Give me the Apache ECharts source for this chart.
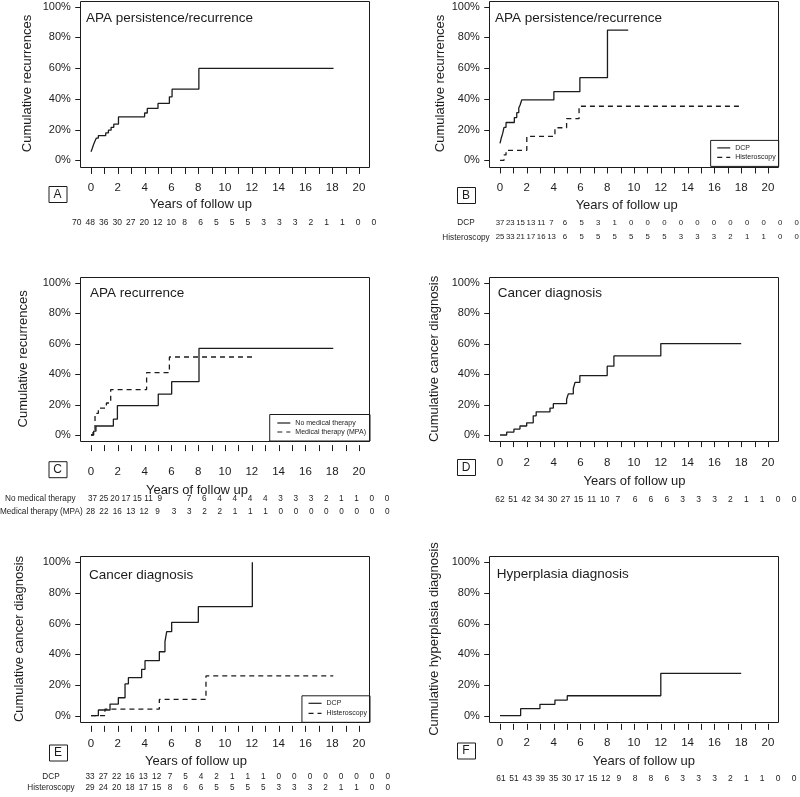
<!DOCTYPE html>
<html><head><meta charset="utf-8">
<script src="https://cdn.jsdelivr.net/npm/echarts@6/dist/echarts.min.js"></script>
<style>html,body{margin:0;padding:0;background:#fff}#c{width:800px;height:797px}</style>
</head><body><div id="c"></div>
<script>
// ---------------- DATA ----------------
const xTickMin = 0, xTickMax = 20, xTickStep = 1;
const yTickMin = 0, yTickMax = 100, yTickStep = 20;
// A: APA persistence/recurrence (all)
const aTime = [0, 0.1, 0.2, 0.3, 0.4, 0.55, 1.1, 1.3, 1.5, 1.7, 2.05, 4.0, 4.2, 5.0, 5.85, 6.05, 8.05, 18.1];
const aCum  = [5.6, 7.8, 10.5, 12.5, 14.5, 16.1, 17.8, 19.6, 21.5, 23.5, 28.3, 30.8, 33.8, 37.0, 41.3, 46.3, 59.8, 59.8];
const aRisk = [70,48,36,30,27,20,12,10,8,6,5,5,5,3,3,3,2,1,1,0,0];
// B: by surgery type
const bDcpTime = [0, 0.08, 0.2, 0.3, 0.45, 1.07, 1.25, 1.4, 1.5, 1.62, 4.02, 5.96, 8.02, 9.57];
const bDcpCum  = [11, 14, 17.5, 21.5, 24.6, 27.8, 31, 34, 36, 39.3, 44.7, 53.8, 84.8, 84.8];
const bHisTime = [0, 0.3, 0.45, 2.0, 4.1, 4.97, 5.9, 17.9];
const bHisCum  = [0, 3.5, 6.5, 15.6, 21.2, 27.1, 35.2, 35.2];
const bDcpRisk = [37,23,15,13,11,7,6,5,3,1,0,0,0,0,0,0,0,0,0,0,0];
const bHisRisk = [25,33,21,17,16,13,6,5,5,5,5,5,5,3,3,3,2,1,1,0,0];
// C: APA recurrence by medical therapy
const cNoTime  = [0, 0.2, 0.37, 1.67, 1.97, 5.02, 6.02, 8.06, 18.08];
const cNoCum   = [0, 2.5, 5.9, 10.4, 19.3, 26.9, 35.0, 56.9, 56.9];
const cMpaTime = [0, 0.15, 0.3, 0.55, 1.15, 1.47, 4.15, 5.85, 12.1];
const cMpaCum  = [0, 3.5, 14.2, 17.7, 21.0, 29.8, 41.0, 51.2, 51.2];
const cNoRisk  = [37,25,20,17,15,11,9,7,6,4,4,4,4,3,3,3,2,1,1,0,0];
const cMpaRisk = [28,22,16,13,12,9,3,3,2,2,1,1,1,0,0,0,0,0,0,0,0];
// D: cancer diagnosis (all)
const dTime = [0, 0.5, 1.04, 1.49, 1.99, 2.48, 2.7, 3.73, 3.98, 4.97, 5.1, 5.47, 5.6, 5.96, 8.0, 8.5, 12.0, 18.0];
const dCum  = [0, 1.9, 3.9, 5.9, 8.0, 12.6, 15.2, 17.7, 20.6, 23.5, 27.0, 30.5, 34.6, 39.0, 45.2, 51.9, 60.0, 60.0];
const dRisk = [62,51,42,34,30,27,15,11,10,7,6,6,6,3,3,3,2,1,1,0,0];
// E: cancer diagnosis by surgery type
const eDcpTime = [0, 0.55, 1.42, 2.04, 2.54, 2.79, 3.78, 4.03, 5.1, 5.52, 5.65, 6.02, 8.01, 12.04];
const eDcpCum  = [0, 3.7, 7.6, 11.7, 20.7, 24.8, 30.2, 35.9, 41.7, 48.3, 54.8, 60.9, 71.1, 100];
const eHisTime = [0, 1.04, 5.1, 8.58, 18.08];
const eHisCum  = [0, 4.3, 10.7, 25.9, 25.9];
const eDcpRisk = [33,27,22,16,13,12,7,5,4,2,1,1,1,0,0,0,0,0,0,0,0];
const eHisRisk = [29,24,20,18,17,15,8,6,6,5,5,5,5,3,3,3,2,1,1,0,0];
// F: hyperplasia diagnosis
const fTime = [0, 1.54, 2.98, 4.1, 5.02, 12.0, 18.0];
const fCum  = [0, 4.6, 7.4, 10.2, 13.0, 27.6, 27.6];
const fRisk = [61,51,43,39,35,30,17,15,12,9,8,8,6,3,3,3,2,1,1,0,0];

// ---------------- LAYOUT / STYLE ----------------
const FONT = '"Liberation Sans", Arial, Helvetica, sans-serif';
const INK = '#1c1c1c';
const DASH = [5, 4];
const X_TICK_LEN = 6, Y_TICK_LEN = 5;

const panels = [
  { letter:'A', title:'APA persistence/recurrence', yName:'Cumulative recurrences',
    series:[{name:'All A', t:aTime, c:aCum, dashed:false}],
    risk:[{label:null, n:aRisk, y:223}], riskFont:8.5, riskCols:{start:76.7, narrow:13.5, k:9, start2:200.7, wide:15.75},
    g:{left:91, top:6.7, width:268, height:153.6}, yGap:46, xOff:1.5, xMargin:13.6,
    titlePos:[86,18.3], xTitle:[200.8,204], letterPos:[57.5,194], legend:null },
  { letter:'B', title:'APA persistence/recurrence', yName:'Cumulative recurrences',
    series:[{name:'DCP', t:bDcpTime, c:bDcpCum, dashed:false},{name:'Histeroscopy', t:bHisTime, c:bHisCum, dashed:true}],
    risk:[{label:'DCP', n:bDcpRisk, y:222.7},{label:'Histeroscopy', n:bHisRisk, y:237.3}], riskLabelX:466, riskLabelAlign:'center',
    riskFont:7.8, riskCols:{start:500, narrow:10.3, k:6, start2:565, wide:16.55},
    g:{left:500, top:6.7, width:268, height:153.6}, yGap:42.5, xOff:1, xMargin:14.1,
    titlePos:[495,18.3], xTitle:[626.7,205], letterPos:[466,195],
    legend:{right:21.3, top:140.4, padding:[4,3,5.5,6], gap:2.5} },
  { letter:'C', title:'APA recurrence', yName:'Cumulative recurrences',
    series:[{name:'No medical therapy', t:cNoTime, c:cNoCum, dashed:false},{name:'Medical therapy (MPA)', t:cMpaTime, c:cMpaCum, dashed:true}],
    risk:[{label:'No medical therapy', n:cNoRisk, y:499, cols:{start:92.5, narrow:11.2, k:7, start2:189, wide:15.24}, lx:5},
          {label:'Medical therapy (MPA)', n:cMpaRisk, y:511.7, lx:0}], riskLabelAlign:'left',
    riskFont:8.2, riskCols:{start:90.5, narrow:13.4, k:6, start2:174, wide:15.24},
    g:{left:91, top:282.7, width:268, height:152.3}, yGap:50, xOff:4, xMargin:20.4,
    titlePos:[90,293.3], xTitle:[197,490], letterPos:[57.5,469.2],
    legend:{right:430, top:414.5, padding:[5,4,5.5,7], gap:2} },
  { letter:'D', title:'Cancer diagnosis', yName:'Cumulative cancer diagnosis',
    series:[{name:'All D', t:dTime, c:dCum, dashed:false}],
    risk:[{label:null, n:dRisk, y:499.3}], riskFont:8.5, riskCols:{start:500, narrow:13.1, k:10, start2:635, wide:15.9},
    g:{left:500, top:282.7, width:268, height:152.3}, yGap:48, xOff:0, xMargin:15.9,
    titlePos:[497.7,293.3], xTitle:[634.5,481.7], letterPos:[466,467], legend:null },
  { letter:'E', title:'Cancer diagnosis', yName:'Cumulative cancer diagnosis',
    series:[{name:'DCP', t:eDcpTime, c:eDcpCum, dashed:false},{name:'Histeroscopy', t:eHisTime, c:eHisCum, dashed:true}],
    risk:[{label:'DCP', n:eDcpRisk, y:776.7},{label:'Histeroscopy', n:eHisRisk, y:787.7}], riskLabelX:51, riskLabelAlign:'center',
    riskFont:8.2, riskCols:{start:90, narrow:13.33, k:6, start2:170, wide:15.55},
    g:{left:91, top:562.3, width:268, height:153.4}, yGap:54, xOff:4, xMargin:12.4,
    titlePos:[89,575], xTitle:[196,761.7], letterPos:[58,752.5],
    legend:{right:430, top:695.8, padding:[4,3,5.5,6], gap:3} },
  { letter:'F', title:'Hyperplasia diagnosis', yName:'Cumulative hyperplasia diagnosis',
    series:[{name:'All F', t:fTime, c:fCum, dashed:false}],
    risk:[{label:null, n:fRisk, y:778.3}], riskFont:8.5, riskCols:{start:501, narrow:13.1, k:10, start2:635, wide:15.9},
    g:{left:500, top:562.3, width:268, height:153.4}, yGap:48, xOff:2, xMargin:13,
    titlePos:[496.7,574.3], xTitle:[643.8,761], letterPos:[466,750.5], legend:null }
];

function colX(i, cols) {
  return i < cols.k ? cols.start + i * cols.narrow : cols.start2 + (i - cols.k) * cols.wide;
}

const grid = [], xAxis = [], yAxis = [], series = [], legend = [], graphic = [];
const baseGrid = { containLabel:false, outerBoundsMode:'none', show:false };
const hiddenX = (gi, mn, mx) => ({ type:'value', gridIndex:gi, show:false, min:mn, max:mx });
const hiddenY = (gi, mn, mx) => ({ type:'value', gridIndex:gi, show:false, min:mn, max:mx });

panels.forEach((p, i) => {
  const g = p.g;
  const padX = 0.04 * g.width, padY = 0.04 * g.height;
  const boxLeft = g.left - padX, boxBottom = g.top + g.height + padY;
  p.boxLeft = boxLeft; p.boxBottom = boxBottom;
  const gData = 4 * i, gX = 4 * i + 1, gY = 4 * i + 2, gName = 4 * i + 3;

  // 1) data grid (0..20 years, 0..100 %)
  grid.push(Object.assign({ left:g.left, top:g.top, width:g.width, height:g.height }, baseGrid));
  xAxis.push(hiddenX(gData, xTickMin, xTickMax)); yAxis.push(hiddenY(gData, yTickMin, yTickMax));

  // 2) thin strip under the frame carrying the x tick labels
  grid.push(Object.assign({ left:g.left, top:boxBottom + p.xOff, width:g.width, height:X_TICK_LEN }, baseGrid));
  xAxis.push({
    type:'value', gridIndex:gX, min:xTickMin, max:xTickMax, interval:xTickStep, position:'bottom',
    axisLine:{show:false, onZero:false}, axisTick:{show:false}, splitLine:{show:false},
    axisLabel:{show:true, margin:p.xMargin - X_TICK_LEN, color:INK, fontFamily:FONT, fontSize:11.5,
      hideOverlap:false, showMinLabel:true, showMaxLabel:true, formatter:val => (val % 2 === 0 ? String(val) : '')}
  });
  yAxis.push(hiddenY(gX, 0, 1));

  // 3) thin strip left of the frame carrying the y tick labels
  grid.push(Object.assign({ left:boxLeft - Y_TICK_LEN, top:g.top, width:Y_TICK_LEN, height:g.height }, baseGrid));
  xAxis.push(hiddenX(gY, 0, 1));
  yAxis.push({
    type:'value', gridIndex:gY, min:yTickMin, max:yTickMax, interval:yTickStep, position:'left',
    axisLine:{show:false, onZero:false}, axisTick:{show:false}, splitLine:{show:false},
    axisLabel:{show:true, margin:9.5 - Y_TICK_LEN, color:INK, fontFamily:FONT, fontSize:11, formatter:'{value}%',
      showMinLabel:true, showMaxLabel:true, hideOverlap:false}
  });

  // 4) y-axis title, anchored on the frame's left edge
  grid.push(Object.assign({ left:boxLeft, top:g.top, width:g.width + 2 * padX, height:g.height }, baseGrid));
  xAxis.push(hiddenX(gName, 0, 1));
  yAxis.push({
    type:'value', gridIndex:gName, min:0, max:100, position:'left',
    name:p.yName, nameLocation:'middle', nameRotate:90, nameGap:p.yGap,
    nameTextStyle:{color:INK, fontFamily:FONT, fontSize:13},
    axisLine:{show:false, onZero:false}, axisTick:{show:false}, axisLabel:{show:false}, splitLine:{show:false}
  });

  p.series.forEach(s => {
    series.push({
      type:'line', name:s.name, xAxisIndex:gData, yAxisIndex:gData, step:'end', symbol:'none', showSymbol:false,
      data:s.t.map((t, k) => [t, s.c[k]]), clip:false, silent:true, animation:false,
      lineStyle:{color:INK, width:1.3, type:s.dashed ? DASH : 'solid'}, itemStyle:{color:INK}
    });
  });
  if (p.legend) {
    legend.push({
      data:p.series.map(s => ({ name:s.name,
        itemStyle:{ opacity:0, color:'rgba(0,0,0,0)', borderColor:'rgba(0,0,0,0)', borderWidth:0 },
        lineStyle:{ color:INK, width:1.2, type:s.dashed ? DASH : 'solid' } })),
      orient:'vertical', right:p.legend.right, top:p.legend.top,
      padding:p.legend.padding, itemGap:p.legend.gap, itemWidth:13, itemHeight:7,
      borderColor:INK, borderWidth:1, borderRadius:0, backgroundColor:'#fff', selectedMode:false,
      itemStyle:{ opacity:0 },
      textStyle:{color:INK, fontFamily:FONT, fontSize:7}
    });
  }
  // plot frame
  graphic.push({ type:'rect', silent:true, z:5,
    shape:{ x:Math.round(boxLeft) + 0.5, y:Math.round(g.top - padY) + 0.5,
            width:Math.round(g.width + 2 * padX), height:Math.round(g.height + 2 * padY) },
    style:{ fill:'none', stroke:INK, lineWidth:1 } });
  // in-plot title
  graphic.push({ type:'text', silent:true, z:6, style:{ text:p.title, x:p.titlePos[0], y:p.titlePos[1],
    align:'left', verticalAlign:'middle', fill:INK, font:`13.5px ${FONT}` } });
  // x axis title
  graphic.push({ type:'text', silent:true, style:{ text:'Years of follow up', x:p.xTitle[0], y:p.xTitle[1],
    align:'center', verticalAlign:'middle', fill:INK, font:`13px ${FONT}` } });
  // panel letter
  graphic.push({ type:'rect', silent:true, shape:{ x:p.letterPos[0] - 9 + 0.5, y:p.letterPos[1] - 8 + 0.5, width:18, height:16 },
    style:{ fill:'#fff', stroke:INK, lineWidth:1 } });
  graphic.push({ type:'text', silent:true, z:2, style:{ text:p.letter, x:p.letterPos[0], y:p.letterPos[1] + 0.5,
    align:'center', verticalAlign:'middle', fill:INK, font:`12px ${FONT}` } });
  // numbers at risk
  p.risk.forEach(r => {
    const cols = r.cols || p.riskCols;
    if (r.label) {
      const lx = r.lx !== undefined ? r.lx : p.riskLabelX;
      graphic.push({ type:'text', silent:true, style:{ text:r.label, x:lx, y:r.y,
        align:r.lx !== undefined ? 'left' : p.riskLabelAlign, verticalAlign:'middle', fill:INK, font:`8.2px ${FONT}` } });
    }
    r.n.forEach((val, k) => {
      graphic.push({ type:'text', silent:true, style:{ text:String(val), x:colX(k, cols), y:r.y,
        align:'center', verticalAlign:'middle', fill:INK, font:`${p.riskFont}px ${FONT}` } });
    });
  });
});

const chart = echarts.init(document.getElementById('c'), null, { renderer:'canvas' });
chart.setOption({
  backgroundColor:'#fff', animation:false,
  textStyle:{ fontFamily:FONT, color:INK },
  grid, xAxis, yAxis, series, legend, graphic
});

// Tick marks, placed through each panel's own axis scales
const ticks = [];
panels.forEach((p, i) => {
  const gData = 4 * i;
  const y0 = p.boxBottom + p.xOff;
  for (let v = xTickMin; v <= xTickMax; v += xTickStep) {
    const x = Math.round(chart.convertToPixel({ xAxisIndex:gData }, v)) + 0.5;
    ticks.push({ type:'line', silent:true, z:5, shape:{ x1:x, y1:y0, x2:x, y2:y0 + X_TICK_LEN },
      style:{ stroke:INK, lineWidth:1 } });
  }
  const x0 = p.boxLeft;
  for (let v = yTickMin; v <= yTickMax; v += yTickStep) {
    const y = Math.round(chart.convertToPixel({ yAxisIndex:gData }, v)) + 0.5;
    ticks.push({ type:'line', silent:true, z:5, shape:{ x1:x0 - Y_TICK_LEN, y1:y, x2:x0, y2:y },
      style:{ stroke:INK, lineWidth:1 } });
  }
});
chart.setOption({ graphic: graphic.concat(ticks) });
</script></body></html>
